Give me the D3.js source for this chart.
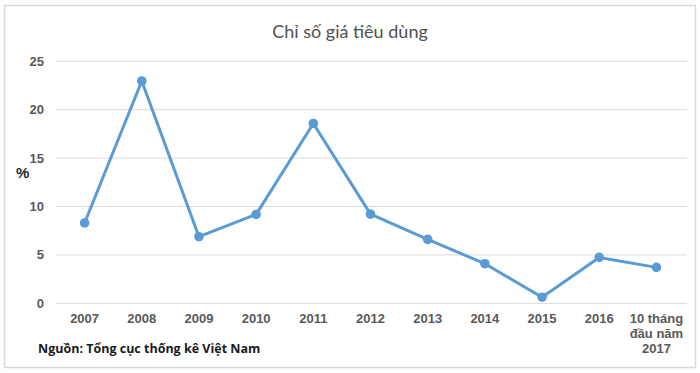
<!DOCTYPE html>
<html>
<head>
<meta charset="utf-8">
<script src="https://cdn.jsdelivr.net/npm/d3@7"></script>
<style>
  body { margin: 0; background: #fff; }
  svg { display: block; }
</style>
</head>
<body>
<svg id="chart" width="700" height="373"></svg>
<script>
const categories = ['2007', '2008', '2009', '2010', '2011', '2012', '2013', '2014', '2015', '2016', '10 tháng|đầu năm|2017'];
const cpiValues = [8.3, 22.97, 6.88, 9.19, 18.58, 9.21, 6.6, 4.09, 0.63, 4.74, 3.71];
const yTicks = [0, 5, 10, 15, 20, 25];

const svg = d3.select('#chart');
const width = 700, height = 373;
const margin = { left: 56, right: 15, top: 61, bottom: 70 };

// outer frame
svg.append('rect')
  .attr('x', 4.5).attr('y', 5.5)
  .attr('width', 691).attr('height', 362)
  .attr('fill', '#fff')
  .attr('stroke', '#d9d9d9')
  .attr('stroke-width', 1.5);

const x = d3.scaleBand()
  .domain(categories)
  .range([margin.left, width - margin.right]);

const y = d3.scaleLinear()
  .domain([0, 25])
  .range([303.3, 61.3]);

// gridlines
svg.append('g')
  .selectAll('line')
  .data(yTicks)
  .join('line')
  .attr('x1', margin.left).attr('x2', width - margin.right + 2)
  .attr('y1', d => y(d)).attr('y2', d => y(d))
  .attr('stroke', '#d9d9d9')
  .attr('stroke-width', 1);

// y tick labels
svg.append('g')
  .selectAll('text')
  .data(yTicks)
  .join('text')
  .attr('x', 44)
  .attr('y', d => y(d) + 4.5)
  .attr('text-anchor', 'end')
  .style('font', 'bold 13px "Liberation Sans", Arial, sans-serif')
  .attr('fill', '#595959')
  .text(d => d);

// x tick labels
const xl = svg.append('g')
  .selectAll('text')
  .data(categories)
  .join('text')
  .attr('x', d => x(d) + x.bandwidth() / 2)
  .attr('y', 323)
  .attr('text-anchor', 'middle')
  .style('font', 'bold 13px "Liberation Sans", Arial, sans-serif')
  .attr('fill', '#595959');

xl.selectAll('tspan')
  .data(d => d.split('|').map(s => ({ s, cx: x(d) + x.bandwidth() / 2 })))
  .join('tspan')
  .attr('x', d => d.cx)
  .attr('dy', (d, i) => i === 0 ? 0 : 15)
  .text(d => d.s);

// line
const line = d3.line()
  .x((d, i) => x(categories[i]) + x.bandwidth() / 2)
  .y(d => y(d));

svg.append('path')
  .datum(cpiValues)
  .attr('d', line)
  .attr('fill', 'none')
  .attr('stroke', '#5b9bd5')
  .attr('stroke-width', 3)
  .attr('stroke-linejoin', 'round');

svg.append('g')
  .selectAll('circle')
  .data(cpiValues)
  .join('circle')
  .attr('cx', (d, i) => x(categories[i]) + x.bandwidth() / 2)
  .attr('cy', d => y(d))
  .attr('r', 4.8)
  .attr('fill', '#5b9bd5');

// title
svg.append('text')
  .attr('x', 350).attr('y', 38)
  .attr('text-anchor', 'middle')
  .style('font', '18px Lato, "Open Sans", sans-serif')
  .attr('fill', '#505050')
  .text('Chỉ số giá tiêu dùng');

// axis unit
svg.append('text')
  .attr('x', 16).attr('y', 178)
  .style('font', 'bold 15px "Liberation Sans", Arial, sans-serif')
  .attr('fill', '#262626')
  .text('%');

// source
svg.append('text')
  .attr('x', 38).attr('y', 353)
  .style('font', 'bold 12.5px "Open Sans", "Noto Sans", sans-serif')
  .attr('fill', '#1a1a1a')
  .text('Nguồn: Tổng cục thống kê Việt Nam');
</script>
</body>
</html>
